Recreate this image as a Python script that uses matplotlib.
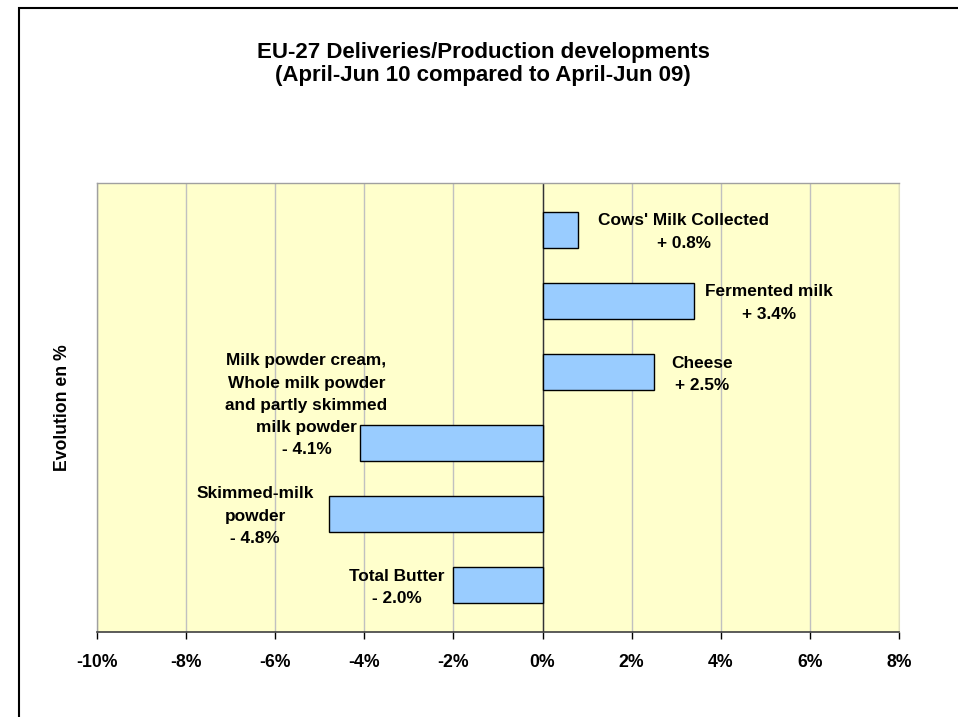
import numpy as np
import matplotlib.pyplot as plt
from matplotlib.patches import Rectangle

# values (top to bottom)
categories = ["Cows' Milk Collected", "Fermented milk", "Cheese",
              "Milk powder cream,\nWhole milk powder\nand partly skimmed\nmilk powder",
              "Skimmed-milk\npowder", "Total Butter"]
values = [0.8, 3.4, 2.5, -4.1, -4.8, -2.0]
value_labels = ["+ 0.8%", "+ 3.4%", "+ 2.5%", "- 4.1%", "- 4.8%", "- 2.0%"]
# where the annotation boxes sit (x in %, y offset in bar units)
label_x = [3.17, 5.08, 3.58, -5.3, -6.45, -3.28]
label_dy = [0.03, 0.03, 0.03, -0.53, 0.03, 0.03]
xticks = np.arange(-10, 9, 2)

plt.rcParams['font.family'] = ['Liberation Sans', 'DejaVu Sans']
plt.rcParams['font.weight'] = 'bold'

fig = plt.figure(figsize=(9.58, 7.17), dpi=100)
ax = fig.add_axes([97/958, 1 - 632/717, 802/958, 449/717])

pos = np.arange(len(values))
ax.barh(pos, values, height=0.5, color='#99CCFF', edgecolor='black', linewidth=1.0, zorder=3)

for i in range(len(values)):
    ax.text(label_x[i], pos[i] + label_dy[i], categories[i] + "\n" + value_labels[i],
            ha='center', va='center', fontsize=12.4, fontweight='bold',
            linespacing=1.6, zorder=4)

ax.set_xlim(-10, 8)
ax.set_ylim(len(values) - 1 + 0.66, -0.66)
ax.set_xticks(xticks)
ax.set_xticklabels(["%d%%" % t for t in xticks], fontsize=12.7, fontweight='bold')
ax.set_yticks([])
ax.set_facecolor('#FFFFCC')
ax.grid(axis='x', color='#C0C0C0', linewidth=1.0, zorder=0)
ax.axvline(0, color='#333333', linewidth=1.0, zorder=2)
ax.tick_params(axis='x', direction='out', length=5, width=1, color='black', pad=11)

for side in ['top', 'left']:
    ax.spines[side].set_color('#A0A0A0')
    ax.spines[side].set_linewidth(1.0)
ax.spines['right'].set_color('#E0E0C0')
ax.spines['right'].set_linewidth(0.8)
ax.spines['bottom'].set_color('#404040')
ax.spines['bottom'].set_linewidth(1.2)

ax.set_ylabel('Evolution en %', fontsize=12.7, fontweight='bold', labelpad=19)

fig.text(483/958, 1 - 64/717,
         "EU-27 Deliveries/Production developments\n(April-Jun 10 compared to April-Jun 09)",
         ha='center', va='center', fontsize=16, fontweight='bold', linespacing=1.15)

# outer chart border
fig.patches.append(Rectangle((19/958, -0.1), 1.2, 1.1 - 8/717, transform=fig.transFigure,
                             fill=False, edgecolor='black', linewidth=1.5, clip_on=False))

plt.savefig('out.png', dpi=100)
